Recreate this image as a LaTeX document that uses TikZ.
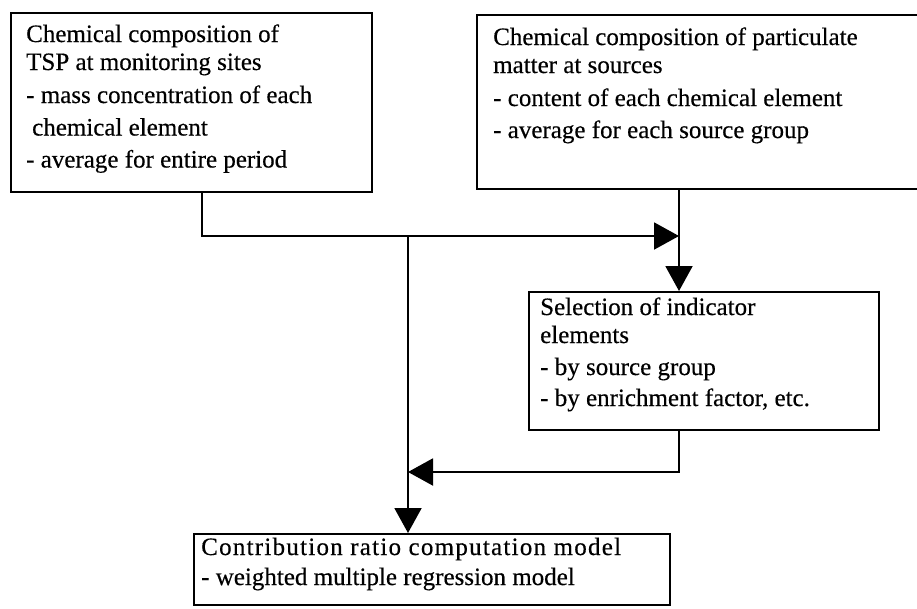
\documentclass[tikz,border=0pt]{standalone}
\usepackage{fontspec}
\setmainfont{Liberation Serif}[FakeBold=0.4]
\usetikzlibrary{arrows.meta}
\begin{document}
\begin{tikzpicture}[x=1pt,y=-1pt,
  box/.style={draw=black, line width=2pt, inner sep=0pt, anchor=north west},
  txt/.style={anchor=base west, inner sep=0pt, align=left, font=\fontsize{25}{28}\selectfont},
  conn/.style={line width=2pt, draw=black},
  arr/.style={conn, -{Triangle[length=25pt,width=27pt]}}]
\clip (0,0) rectangle (917,608);
\fill[white] (0,0) rectangle (917,608);
% boxes
\node[box, minimum width=361pt, minimum height=179pt] (A) at (10,12) {};
\node[box, minimum width=459pt, minimum height=174pt] (B) at (476,14) {};
\node[box, minimum width=350pt, minimum height=138pt] (S) at (528,291) {};
\node[box, minimum width=476pt, minimum height=71pt] (C) at (193,533) {};
% texts (anchored at the baseline of their last line)
\node[txt] (tA) at (26,167.5) {Chemical composition of\\TSP at monitoring sites\\[5pt]- mass concentration of each\\[4.5pt]\hspace*{6pt}chemical element\\[4pt]- average for entire period};
\node[txt] (tB) at (493,138) {Chemical composition of particulate\\matter at sources\\[5pt]- content of each chemical element\\[4pt]- average for each source group};
\node[txt] (tS) at (540,406) {Selection of indicator\\elements\\[4pt]- by source group\\[3pt]- by enrichment factor, etc.};
\node[txt] (tC) at (201,585) {{\addfontfeature{LetterSpace=5}Contribution ratio computation model}\\[2pt]- weighted multiple regression model};
% junctions
\coordinate (j1) at (679,236);
\coordinate (j2) at (408,236);
\coordinate (j4) at (408,472);
% connectors
\draw[arr] (A.south west) ++(192,0) |- (j1);
\draw[arr] (B.south -| j1) -- (S.north -| j1);
\draw[arr] (j2) -- (C.north -| j2);
\draw[arr] (S.south -| j1) |- (j4);
\end{tikzpicture}
\end{document}
